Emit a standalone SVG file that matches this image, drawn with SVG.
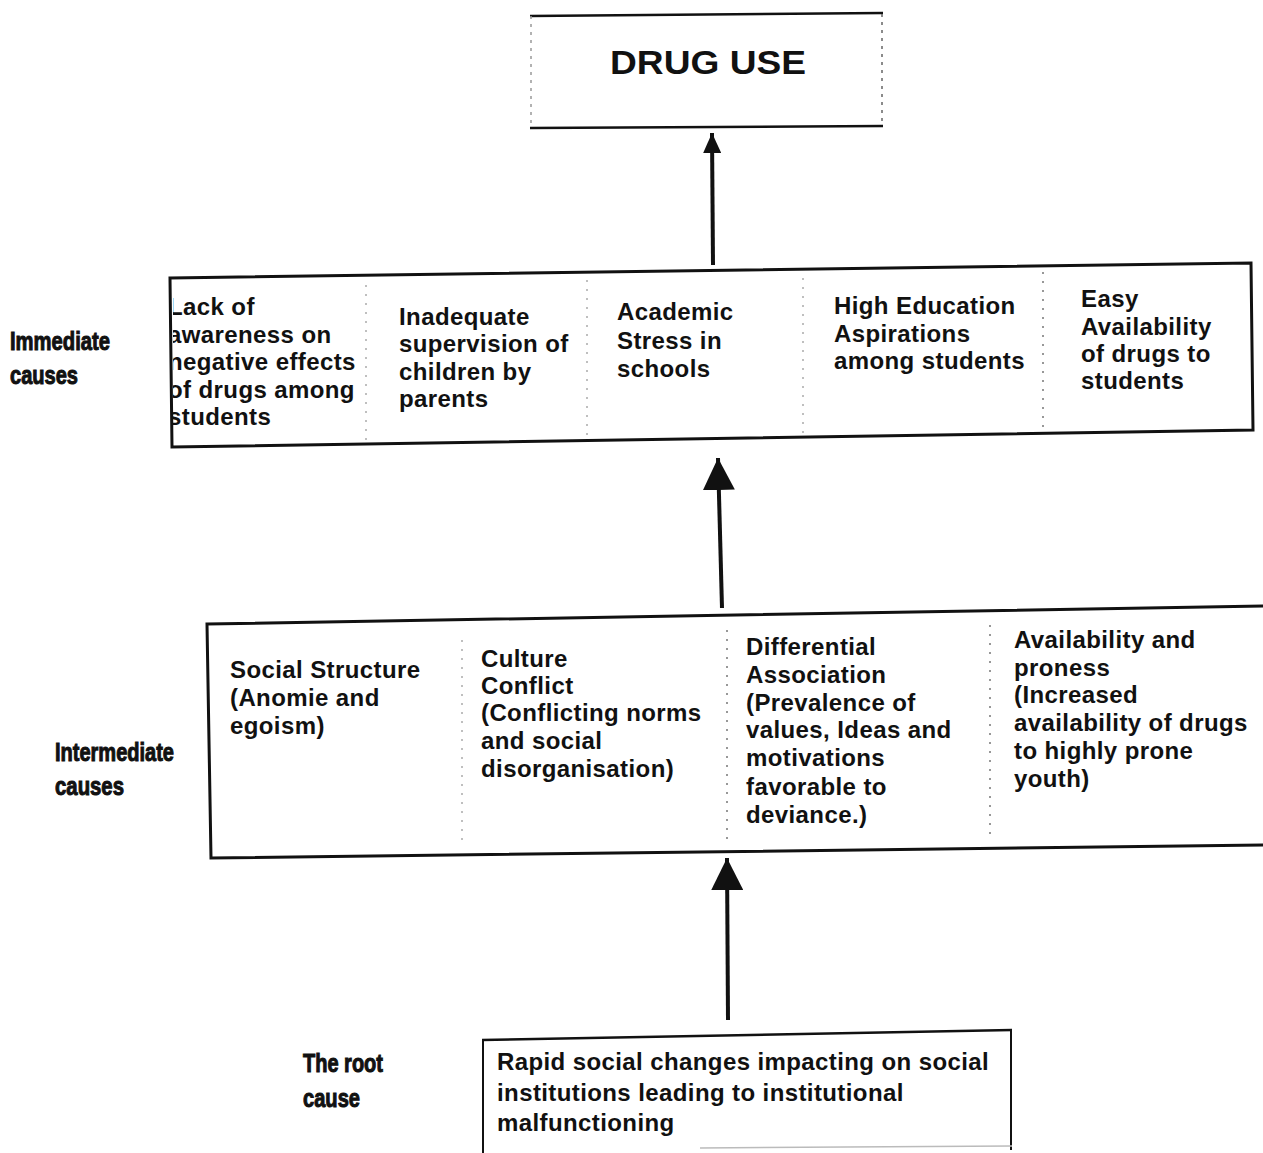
<svg xmlns="http://www.w3.org/2000/svg" width="1263" height="1153" viewBox="0 0 1263 1153">
<defs>
<style>
.t{font-family:"Liberation Sans",Arial,sans-serif;font-weight:bold;font-size:24px;fill:#111;letter-spacing:0.4px}
.lab{font-family:"Liberation Sans",Arial,sans-serif;font-weight:bold;font-size:25px;fill:#111;stroke:#111;stroke-width:1}
.box{fill:#fff;stroke:#111;stroke-width:3}
.edge{fill:none;stroke:#111;stroke-width:2.5}
.faint{fill:none;stroke:#999;stroke-width:1.5;stroke-dasharray:3,5}
.div{fill:none;stroke:#aaa;stroke-width:1.5;stroke-dasharray:2,7}
.conn{stroke:#111;stroke-width:4;fill:none}
</style>
<clipPath id="col1clip"><rect x="173" y="270" width="200" height="180"/></clipPath>
<marker id="big" viewBox="0 0 32 32" markerWidth="32" markerHeight="32" markerUnits="userSpaceOnUse" refX="32" refY="16" orient="auto">
<path d="M0,0 L32,16 L0,32 z" fill="#111"/>
</marker>
<marker id="small" viewBox="0 0 20 18" markerWidth="20" markerHeight="18" markerUnits="userSpaceOnUse" refX="20" refY="9" orient="auto">
<path d="M0,0 L20,9 L0,18 z" fill="#111"/>
</marker>
</defs>
<rect width="1263" height="1153" fill="#fff"/>

<g id="drug-use">
<rect x="530" y="14" width="353" height="113" fill="#fff"/>
<line class="edge" x1="530" y1="16" x2="883" y2="13"/>
<line class="edge" x1="530" y1="128" x2="883" y2="126"/>
<line class="faint" x1="531" y1="16" x2="531" y2="128"/>
<line class="faint" x1="882" y1="14" x2="882" y2="126" style="stroke:#666"/>
<text class="t" x="708" y="74" text-anchor="middle" style="font-size:34px;letter-spacing:0" textLength="196" lengthAdjust="spacingAndGlyphs">DRUG USE</text>
</g>

<g id="immediate-causes">
<polygon points="170,278 1251,263 1253,430 172,447" fill="#fff"/>
<line class="div" x1="366" y1="285" x2="366" y2="440"/>
<line class="div" x1="587" y1="280" x2="587" y2="437"/>
<line class="div" x1="803" y1="278" x2="803" y2="434"/>
<line class="div" x1="1043" y1="272" x2="1043" y2="432" style="stroke:#777"/>
<text class="t" clip-path="url(#col1clip)"><tspan x="168" y="315">Lack of</tspan><tspan x="168" y="343">awareness on</tspan><tspan x="168" y="370">negative effects</tspan><tspan x="168" y="398">of drugs among</tspan><tspan x="168" y="425">students</tspan></text>
<text class="t"><tspan x="399" y="325">Inadequate</tspan><tspan x="399" y="352">supervision of</tspan><tspan x="399" y="380">children by</tspan><tspan x="399" y="407">parents</tspan></text>
<text class="t"><tspan x="617" y="320">Academic</tspan><tspan x="617" y="349">Stress in</tspan><tspan x="617" y="377">schools</tspan></text>
<text class="t"><tspan x="834" y="314">High Education</tspan><tspan x="834" y="342">Aspirations</tspan><tspan x="834" y="369">among students</tspan></text>
<text class="t"><tspan x="1081" y="307">Easy</tspan><tspan x="1081" y="335">Availability</tspan><tspan x="1081" y="362">of drugs to</tspan><tspan x="1081" y="389">students</tspan></text>
<polygon class="box" points="170,278 1251,263 1253,430 172,447" style="fill:none"/>
</g>

<g id="intermediate-causes">
<polygon points="207,624 1270,606 1270,845 211,858" fill="#fff"/>
<line class="div" x1="462" y1="640" x2="462" y2="845"/>
<line class="div" x1="727" y1="630" x2="727" y2="840" style="stroke:#777"/>
<line class="div" x1="990" y1="625" x2="990" y2="840" style="stroke:#777"/>
<text class="t"><tspan x="230" y="678">Social Structure</tspan><tspan x="230" y="706">(Anomie and</tspan><tspan x="230" y="734">egoism)</tspan></text>
<text class="t"><tspan x="481" y="667">Culture</tspan><tspan x="481" y="694">Conflict</tspan><tspan x="481" y="721">(Conflicting norms</tspan><tspan x="481" y="749">and social</tspan><tspan x="481" y="777">disorganisation)</tspan></text>
<text class="t"><tspan x="746" y="655">Differential</tspan><tspan x="746" y="683">Association</tspan><tspan x="746" y="711">(Prevalence of</tspan><tspan x="746" y="738">values, Ideas and</tspan><tspan x="746" y="766">motivations</tspan><tspan x="746" y="795">favorable to</tspan><tspan x="746" y="823">deviance.)</tspan></text>
<text class="t"><tspan x="1014" y="648">Availability and</tspan><tspan x="1014" y="676">proness</tspan><tspan x="1014" y="703">(Increased</tspan><tspan x="1014" y="731">availability of drugs</tspan><tspan x="1014" y="759">to highly prone</tspan><tspan x="1014" y="787">youth)</tspan></text>
<polygon class="box" points="207,624 1270,606 1270,845 211,858" style="fill:none"/>
</g>

<g id="root-cause">
<rect x="483" y="1036" width="529" height="117" fill="#fff"/>
<line class="edge" x1="482" y1="1040" x2="1012" y2="1030"/>
<line class="edge" x1="483" y1="1040" x2="483" y2="1153" style="stroke-width:2"/>
<line class="edge" x1="1011" y1="1030" x2="1011" y2="1150" style="stroke-width:2"/>
<line class="faint" x1="700" y1="1148" x2="1012" y2="1146" style="stroke-dasharray:none;stroke:#bbb"/>
<text class="t"><tspan x="497" y="1070">Rapid social changes impacting on social</tspan><tspan x="497" y="1101">institutions leading to institutional</tspan><tspan x="497" y="1131">malfunctioning</tspan></text>
</g>

<g id="side-labels">
<text class="lab"><tspan x="10" y="350" textLength="100" lengthAdjust="spacingAndGlyphs">Immediate</tspan><tspan x="10" y="384" textLength="68" lengthAdjust="spacingAndGlyphs">causes</tspan></text>
<text class="lab"><tspan x="55" y="761" textLength="119" lengthAdjust="spacingAndGlyphs">Intermediate</tspan><tspan x="55" y="795" textLength="69" lengthAdjust="spacingAndGlyphs">causes</tspan></text>
<text class="lab"><tspan x="303" y="1072" textLength="80" lengthAdjust="spacingAndGlyphs">The root</tspan><tspan x="303" y="1107" textLength="57" lengthAdjust="spacingAndGlyphs">cause</tspan></text>
</g>

<g id="connectors">
<line class="conn" x1="713" y1="265" x2="712" y2="133" marker-end="url(#small)"/>
<line class="conn" x1="722" y1="608" x2="718" y2="458" marker-end="url(#big)"/>
<line class="conn" x1="728" y1="1020" x2="727" y2="858" marker-end="url(#big)"/>
</g>
</svg>
